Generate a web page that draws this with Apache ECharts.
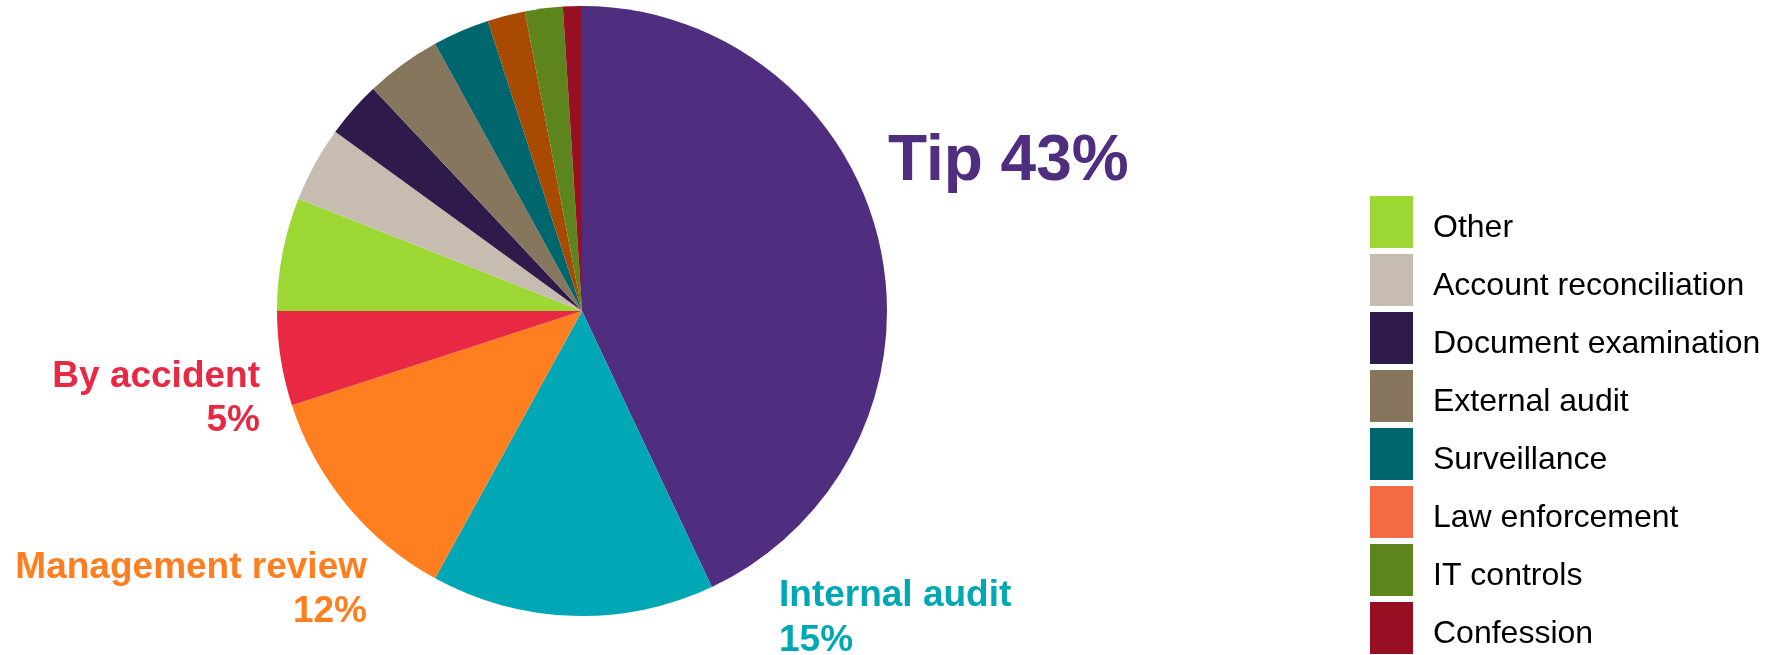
<!DOCTYPE html>
<html>
<head>
<meta charset="utf-8">
<script src="https://cdn.jsdelivr.net/npm/echarts@6/dist/echarts.min.js"></script>
<style>
  html, body { margin: 0; padding: 0; background: #fff; }
  #chart { width: 1774px; height: 655px; }
</style>
</head>
<body>
<div id="chart"></div>
<script>
// detection methods, share of cases (%)
const categories = ['Tip', 'Internal audit', 'Management review', 'By accident', 'Other',
  'Account reconciliation', 'Document examination', 'External audit', 'Surveillance',
  'Law enforcement', 'IT controls', 'Confession'];
const shares = [43, 15, 12, 5, 6, 4, 3, 4, 3, 2, 2, 1];
const legendNames = ['Other', 'Account reconciliation', 'Document examination', 'External audit',
  'Surveillance', 'Law enforcement', 'IT controls', 'Confession'];

const colors = {
  'Tip': '#4f2d7f',
  'Internal audit': '#00a7b5',
  'Management review': '#ff7f20',
  'By accident': '#e92843',
  'Other': '#9cd733',
  'Account reconciliation': '#c6bdb0',
  'Document examination': '#2f1b4b',
  'External audit': '#85765d',
  'Surveillance': '#00666e',
  'Law enforcement': '#a84a00',
  'IT controls': '#5e841d',
  'Confession': '#960f23'
};
// legend swatch differs from the slice for this one
const legendColors = { 'Law enforcement': '#f26b43' };

// where the big callouts sit
const callouts = {
  'Tip': { fmt: '{b} {c}%', size: 64, lh: 70, x: 888, y: 162, align: 'left' },
  'Internal audit': { fmt: '{b}\n{c}%', size: 37, lh: 45, x: 779, y: 618, align: 'left' },
  'Management review': { fmt: '{b}\n{c}%', size: 37, lh: 44, x: 367, y: 590, align: 'right' },
  'By accident': { fmt: '{b}\n{c}%', size: 37, lh: 44, x: 260, y: 399, align: 'right' }
};

const font = '"Liberation Sans", Arial, sans-serif';

const data = categories.map((name, i) => {
  const c = callouts[name];
  return {
    name: name,
    value: shares[i],
    itemStyle: { color: colors[name] },
    label: c ? {
      show: true,
      formatter: c.fmt,
      color: colors[name],
      fontSize: c.size,
      lineHeight: c.lh,
      fontWeight: 'bold',
      fontFamily: font,
      align: c.align
    } : { show: false }
  };
});

const chart = echarts.init(document.getElementById('chart'));
chart.setOption({
  animation: false,
  legend: {
    orient: 'vertical',
    left: 1370,
    top: 196,
    height: 459,
    padding: 0,
    itemWidth: 43,
    itemHeight: 52,
    itemGap: 6,
    icon: 'rect',
    selectedMode: false,
    formatter: name => '{t|' + name + '}',
    textStyle: {
      fontSize: 32,
      color: '#000',
      fontFamily: font,
      rich: {
        t: {
          fontSize: 32,
          color: '#000',
          fontFamily: font,
          padding: [12, 0, 0, 15]
        }
      }
    },
    data: legendNames.map(n => legendColors[n]
      ? { name: n, itemStyle: { color: legendColors[n] } }
      : { name: n })
  },
  series: [{
    type: 'pie',
    center: [582, 311],
    radius: 305,
    startAngle: 90,
    clockwise: true,
    avoidLabelOverlap: false,
    silent: true,
    itemStyle: { borderWidth: 0 },
    label: { position: 'outside' },
    labelLine: { show: false },
    labelLayout: params => {
      const c = callouts[categories[params.dataIndex]];
      if (!c) return {};
      return { x: c.x, y: c.y, align: c.align, verticalAlign: 'middle' };
    },
    data: data
  }]
});
</script>
</body>
</html>
